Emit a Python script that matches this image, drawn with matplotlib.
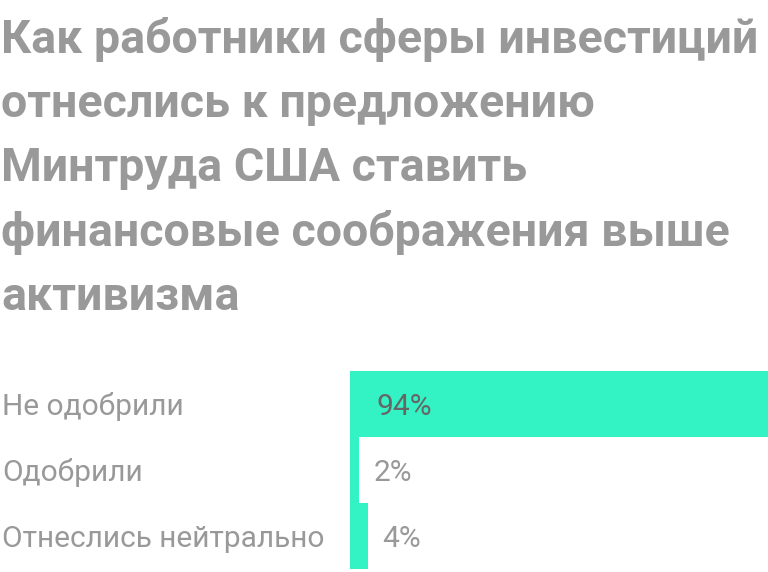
import matplotlib.pyplot as plt

categories = ["Не одобрили", "Одобрили", "Отнеслись нейтрально"]
values = [94, 2, 4]
value_labels = ["94%", "2%", "4%"]
title = ("Как работники сферы инвестиций\nотнеслись к предложению\n"
         "Минтруда США ставить\nфинансовые соображения выше\nактивизма")

W, H = 768, 572
fig = plt.figure(figsize=(W / 100, H / 100), dpi=100)

# заголовок: базовая линия последней строки ~310 px от верха
fig.text(1 / W, 1 - 310 / H, title, ha="left", va="baseline", family="Roboto",
         weight="bold", fontsize=33.5, color="#999999", linespacing=1.57)

ax = fig.add_axes([350 / W, 3 / H, 418 / W, 198 / H])
y = list(range(len(values)))
ax.barh(y, values, height=1.0, color="#33f2c4")
ax.set_xlim(0, 94)
ax.set_ylim(len(values) - 0.5, -0.5)
ax.axis("off")

base = 11 / 66  # сдвиг базовой линии от центра ряда
left_x = -350 / 418 * 94
for i, (v, lab, cat) in enumerate(zip(values, value_labels, categories)):
    if v > 50:
        ax.text(6, i + base, lab, va="baseline", ha="left", family="Roboto",
                fontsize=21.5, color="#666666")
    else:
        ax.text(v + 3.3, i + base, lab, va="baseline", ha="left",
                family="Roboto", fontsize=21.5, color="#999999")
    ax.text(left_x + 0.4, i + base, cat, va="baseline", ha="left",
            family="Roboto", fontsize=21.5, color="#999999",
            clip_on=False)

fig.savefig("out.png", dpi=100)
